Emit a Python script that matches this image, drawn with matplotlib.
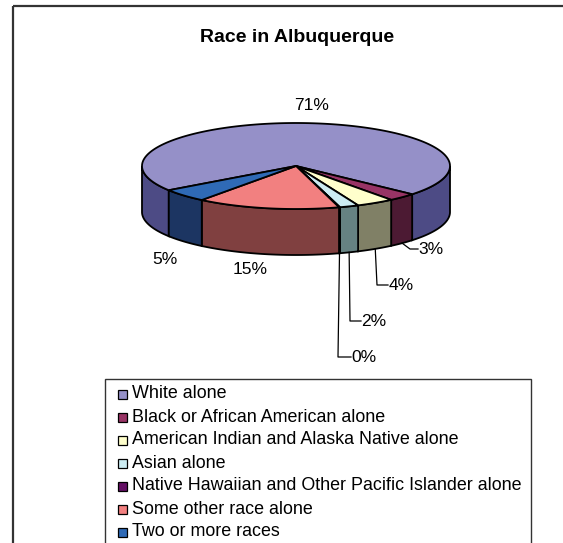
import numpy as np
import matplotlib
matplotlib.use("Agg")
import matplotlib.pyplot as plt
from matplotlib.patches import Polygon, Rectangle

plt.rcParams['font.family'] = ['Liberation Sans', 'DejaVu Sans']

# data (percent of population)
races = ['White alone', 'Black or African American alone',
         'American Indian and Alaska Native alone', 'Asian alone',
         'Native Hawaiian and Other Pacific Islander alone',
         'Some other race alone', 'Two or more races']
shares = [71, 3, 4, 2, 0.1, 15, 5]
pct_labels = ['71%', '3%', '4%', '2%', '0%', '15%', '5%']

top_colors = ['#9590C8', '#983465', '#FFFFCC', '#CCECF2', '#640F64', '#F28080', '#2F6AB6']
side_colors = ['#4D4B85', '#4C1A33', '#808066', '#668282', '#33093A', '#804040', '#1C3562']

# pie geometry (pixels)
cx, cy = 296, 166
rx, ry = 154, 43
depth = 46
start = 214.3   # math degrees, slices go clockwise

fig = plt.figure(figsize=(5.63, 5.43), dpi=100)
ax = fig.add_axes([0, 0, 1, 1])
ax.set_xlim(0, 563)
ax.set_ylim(543, 0)
ax.axis('off')


def arc(a, b, dy=0, n=80):
    t = np.radians(np.linspace(a, b, n))
    return np.column_stack([cx + rx * np.cos(t), cy - ry * np.sin(t) + dy])


fracs = np.array(shares) / sum(shares)
bounds = start - 360 * np.concatenate([[0], np.cumsum(fracs)])

# side walls (front half only)
for i in range(len(races)):
    hi, lo = bounds[i], bounds[i + 1]
    for k in (-1, 0, 1):
        a = max(lo, -180 + 360 * k)
        b = min(hi, 360 * k)
        if b > a:
            up = arc(a, b)
            down = arc(b, a, depth)
            ax.add_patch(Polygon(np.vstack([up, down]), closed=True,
                                 facecolor=side_colors[i], edgecolor='black',
                                 lw=1.3, zorder=2))

# top faces
for i in range(len(races)):
    hi, lo = bounds[i], bounds[i + 1]
    pts = np.vstack([[cx, cy], arc(hi, lo, n=200)])
    ax.add_patch(Polygon(pts, closed=True, facecolor=top_colors[i],
                         edgecolor='black', lw=1.3, zorder=3))

# percentage labels: (x, y, leader elbow x or None)
lab_pos = {
    '71%': (312, 106, None),
    '3%': (431, 249, 410),
    '4%': (401, 285, 377),
    '2%': (374, 321, 350),
    '0%': (364, 357, 338),
    '15%': (250, 270, None),
    '5%': (165, 260, None),
}
for i, lab in enumerate(pct_labels):
    x, y, ex = lab_pos[lab]
    ax.text(x, y, lab, fontsize=12.5, ha='center', va='center', zorder=5)
    if ex is not None:
        mid = np.radians((bounds[i] + bounds[i + 1]) / 2)
        x0 = cx + rx * np.cos(mid)
        y0 = cy - ry * np.sin(mid) + depth
        ax.plot([x0, ex, x - 13], [y0, y, y], color='black', lw=0.9, zorder=4)

ax.text(297, 37, 'Race in Albuquerque', fontsize=14, fontweight='bold',
        ha='center', va='center')

# legend
ax.add_patch(Rectangle((105, 379), 426, 200, facecolor='white',
                       edgecolor='#333333', lw=1.0, zorder=1))
for i, name in enumerate(races):
    yy = 394 + 23 * i
    ax.add_patch(Rectangle((118, yy - 4.5), 9, 9, facecolor=top_colors[i],
                           edgecolor='black', lw=0.9, zorder=2))
    ax.text(132, yy, name, fontsize=12.9, ha='left', va='center')

# chart border
ax.add_patch(Rectangle((13, 6), 600, 600, facecolor='none',
                       edgecolor='#333333', lw=1.6, zorder=0))

fig.savefig('out.png', dpi=100)
